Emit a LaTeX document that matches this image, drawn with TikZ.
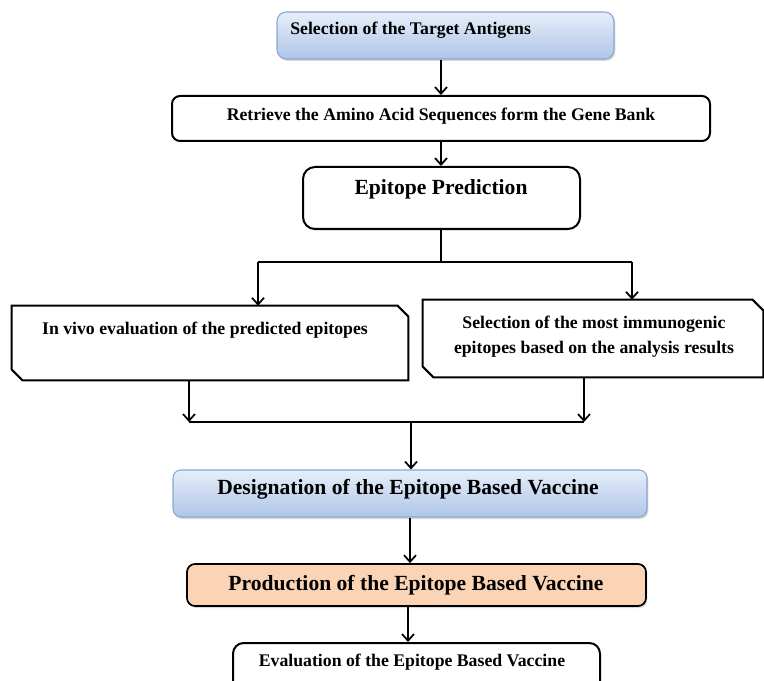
\documentclass[tikz,border=0pt]{standalone}
\usepackage{fontspec}
\setmainfont{Liberation Serif}
\usetikzlibrary{arrows.meta,shadows,calc}
\definecolor{bluetop}{HTML}{E6EEF9}
\definecolor{bluebot}{HTML}{AFC5E8}
\definecolor{blueline}{HTML}{8BA6D0}
\definecolor{peach}{HTML}{FBD4B5}
\tikzset{
  whitebox/.style={draw=black, line width=1.5pt, fill=white, rounded corners=6pt, inner sep=0pt},
  bluebox/.style={draw=blueline, line width=0.8pt, top color=bluetop, bottom color=bluebot,
    rounded corners=7pt, inner sep=0pt,
    drop shadow={shadow xshift=1pt, shadow yshift=-1.5pt, opacity=0.3, fill=gray}},
  peachbox/.style={draw=black, line width=1.3pt, fill=peach, rounded corners=6pt, inner sep=0pt,
    drop shadow={shadow xshift=1pt, shadow yshift=-1.5pt, opacity=0.3, fill=gray}},
  ghost/.style={inner sep=0pt, draw=none},
  chamline/.style={draw=black, line width=1.5pt, fill=white, line join=miter},
  smalltxt/.style={font=\bfseries\fontsize{13.3}{18.75}\selectfont, inner sep=0pt, align=center},
  bigtxt/.style={font=\bfseries\fontsize{16.2}{19}\selectfont, inner sep=0pt, align=center},
  conn/.style={line width=1.3pt, draw=black},
  arr/.style={conn, -{Straight Barb[length=5pt,width=9pt]}},
}
\begin{document}
\begin{tikzpicture}[x=0.75pt, y=-0.75pt]
\clip (0,0) rectangle (764,681);
\fill[white] (0,0) rectangle (764,681);

% boxes
\node[bluebox, minimum width=252.75pt, minimum height=35.25pt] (b1) at (445.5,35.5) {};
\node[whitebox, minimum width=403.5pt, minimum height=33.75pt] (b2) at (441,118.5) {};
\node[whitebox, rounded corners=9pt, minimum width=207.75pt, minimum height=46.5pt] (b3) at (441.5,198) {};
\node[ghost, minimum width=297pt, minimum height=55.5pt] (b4) at (210,343) {};
\draw[chamline] (b4.north west) -- ([xshift=-8pt]b4.north east) -- ([yshift=-8pt]b4.north east)
  -- (b4.south east) -- ([xshift=8pt]b4.south west) -- ([yshift=8pt]b4.south west) -- cycle;
\node[ghost, minimum width=255pt, minimum height=57.75pt] (b5) at (593,338.5) {};
\draw[chamline] (b5.north west) -- ([xshift=-8pt]b5.north east) -- ([yshift=-8pt]b5.north east)
  -- (b5.south east) -- ([xshift=8pt]b5.south west) -- ([yshift=8pt]b5.south west) -- cycle;
\node[bluebox, rounded corners=6pt, minimum width=355.5pt, minimum height=35.25pt] (b6) at (410,493.5) {};
\node[peachbox, minimum width=344.25pt, minimum height=31.5pt] (b7) at (416.5,585) {};
\node[whitebox, rounded corners=8pt, minimum width=275.25pt, minimum height=45pt] (b8) at (416.5,673) {};

% texts
\node[smalltxt, anchor=west] (t1) at (290,30) {Selection of the Target Antigens};
\node[smalltxt] (t2) at (441,116) {Retrieve the Amino Acid Sequences form the Gene Bank};
\node[bigtxt] (t3) at (441,189) {Epitope Prediction};
\node[smalltxt] (t4) at (205,330) {In vivo evaluation of the predicted epitopes};
\node[smalltxt] (t5) at (594,337) {Selection of the most immunogenic\\epitopes based on the analysis results};
\node[bigtxt] (t6) at (408,489) {Designation of the Epitope Based Vaccine};
\node[bigtxt] (t7) at (416,585) {Production of the Epitope Based Vaccine};
\node[smalltxt] (t8) at (412,662) {Evaluation of the Epitope Based Vaccine};

% connectors
\coordinate (kl) at (258,262);
\coordinate (kr) at (632,262);
\coordinate (jl) at (189,422);
\coordinate (jr) at (584,422);
\coordinate (jm) at (411,422);
\coordinate (e8) at (408,606);

\draw[arr] (b1.south -| b2.north) -- (b2.north);
\draw[arr] (b2.south) -- (b2.south |- b3.north);
\draw[conn] (b3.south -| b2.south) -- (b2.south |- kl);
\draw[conn] (kl) -- (kr);
\draw[arr] (kl) -- (kl |- b4.north);
\draw[arr] (kr) -- (kr |- b5.north);
\draw[arr] (jl |- b4.south) -- (jl);
\draw[arr] (jr |- b5.south) -- (jr);
\draw[conn] (jl) -- (jr);
\draw[arr] (jm) -- (jm |- b6.north);
\draw[arr] (b6.south) -- (b6.south |- b7.north);
\draw[arr] (e8) -- (e8 |- b8.north);
\end{tikzpicture}
\end{document}
